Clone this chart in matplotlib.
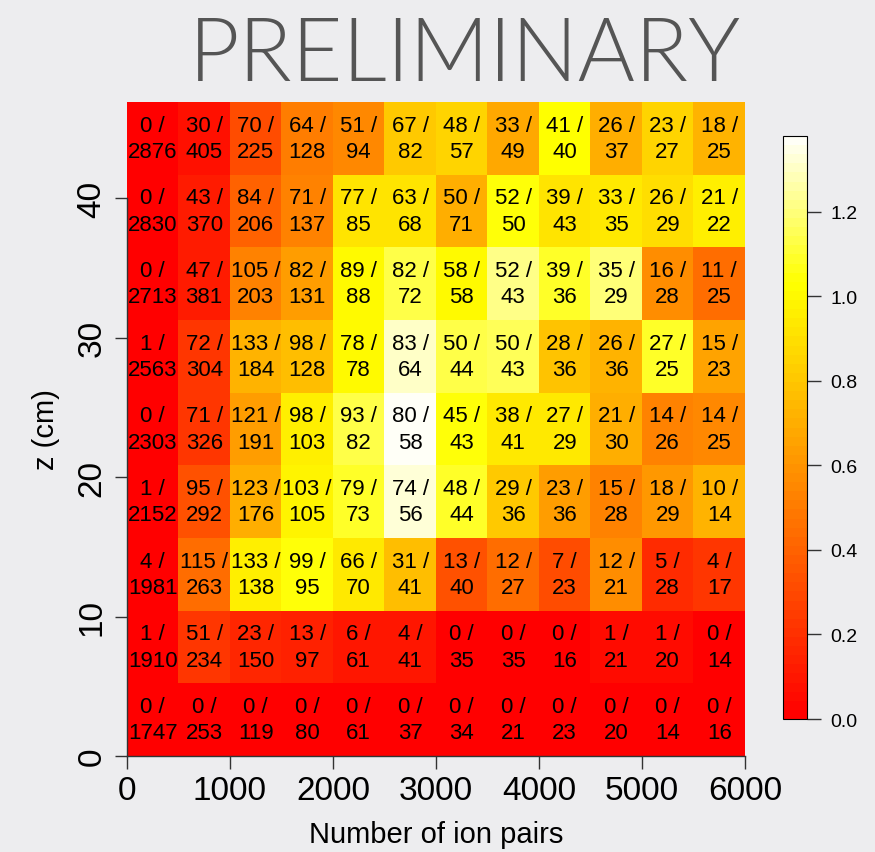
import numpy as np
import matplotlib
matplotlib.use("Agg")
import matplotlib.pyplot as plt
from matplotlib.colors import ListedColormap, hsv_to_rgb

# Bin edges: number of ion pairs (x) and z position in cm (y)
x_edges = [0, 500, 1000, 1500, 2000, 2500, 3000, 3500, 4000, 4500, 5000, 5500, 6000]
z_top = 46.9
n_zbins = 9

# Counts per cell, rows listed from the bottom z bin upwards
numerators = [
    [0, 0, 0, 0, 0, 0, 0, 0, 0, 0, 0, 0],
    [1, 51, 23, 13, 6, 4, 0, 0, 0, 1, 1, 0],
    [4, 115, 133, 99, 66, 31, 13, 12, 7, 12, 5, 4],
    [1, 95, 123, 103, 79, 74, 48, 29, 23, 15, 18, 10],
    [0, 71, 121, 98, 93, 80, 45, 38, 27, 21, 14, 14],
    [1, 72, 133, 98, 78, 83, 50, 50, 28, 26, 27, 15],
    [0, 47, 105, 82, 89, 82, 58, 52, 39, 35, 16, 11],
    [0, 43, 84, 71, 77, 63, 50, 52, 39, 33, 26, 21],
    [0, 30, 70, 64, 51, 67, 48, 33, 41, 26, 23, 18],
]
denominators = [
    [1747, 253, 119, 80, 61, 37, 34, 21, 23, 20, 14, 16],
    [1910, 234, 150, 97, 61, 41, 35, 35, 16, 21, 20, 14],
    [1981, 263, 138, 95, 70, 41, 40, 27, 23, 21, 28, 17],
    [2152, 292, 176, 105, 73, 56, 44, 36, 36, 28, 29, 14],
    [2303, 326, 191, 103, 82, 58, 43, 41, 29, 30, 26, 25],
    [2563, 304, 184, 128, 78, 64, 44, 43, 36, 36, 25, 23],
    [2713, 381, 203, 131, 88, 72, 58, 43, 36, 29, 28, 25],
    [2830, 370, 206, 137, 85, 68, 71, 50, 43, 35, 29, 22],
    [2876, 405, 225, 128, 94, 82, 57, 49, 40, 37, 27, 25],
]

x_ticks = [0, 1000, 2000, 3000, 4000, 5000, 6000]
z_ticks = [0, 10, 20, 30, 40]
cbar_ticks = [0.0, 0.2, 0.4, 0.6, 0.8, 1.0, 1.2]


def heat_colors(n):
    """Red -> yellow -> white palette in the style of R's heat.colors."""
    j = n // 4
    i = n - j
    cols = [hsv_to_rgb((h, 1.0, 1.0)) for h in np.linspace(0, 1 / 6, i)]
    if j > 0:
        sats = np.linspace(1 - 1 / (2 * j), 1 / (2 * j), j)
        cols += [hsv_to_rgb((1 / 6, s, 1.0)) for s in sats]
    return ListedColormap(cols)


bg = "#ededef"
axis_col = "#333333"
plt.rcParams["font.family"] = ["Liberation Sans", "DejaVu Sans"]

num = np.array(numerators, dtype=float)
den = np.array(denominators, dtype=float)
ratio = num / den
z_edges = np.linspace(0, z_top, n_zbins + 1)
x_edges = np.array(x_edges, dtype=float)

fig = plt.figure(figsize=(8.75, 8.53), dpi=100, facecolor=bg)
ax = fig.add_axes([0.1451, 0.1125, 0.7063, 0.7667])
ax.set_facecolor(bg)

cmap = heat_colors(64)
mesh = ax.pcolormesh(x_edges, z_edges, ratio, cmap=cmap, vmin=0,
                     vmax=ratio.max(), shading="flat")

xc = 0.5 * (x_edges[:-1] + x_edges[1:])
zc = 0.5 * (z_edges[:-1] + z_edges[1:])
for r in range(num.shape[0]):
    for c in range(num.shape[1]):
        ax.text(xc[c], zc[r], f"{int(num[r, c])} /\n{int(den[r, c])}",
                ha="center", va="center", fontsize=16, color="black",
                linespacing=1.32)

ax.set_xlim(0, 6000)
ax.set_ylim(0, z_top)
ax.set_xticks(x_ticks)
ax.set_yticks(z_ticks)
ax.set_yticklabels([str(t) for t in z_ticks], rotation=90, va="center")
for s in ("top", "right"):
    ax.spines[s].set_visible(False)
ax.spines["left"].set_bounds(0, 40)
ax.spines["bottom"].set_bounds(0, 6000)
for s in ("left", "bottom"):
    ax.spines[s].set_color(axis_col)
    ax.spines[s].set_linewidth(1.0)
ax.tick_params(axis="both", length=9, width=1.0, color=axis_col,
               labelsize=24, labelcolor="black", pad=5)
ax.set_xlabel("Number of ion pairs", fontsize=21, labelpad=10)
ax.set_ylabel("z (cm)", fontsize=21, labelpad=12)

cax = fig.add_axes([0.8949, 0.1559, 0.0274, 0.6835])
cb = fig.colorbar(mesh, cax=cax, ticks=cbar_ticks)
cb.ax.set_yticklabels([f"{t:.1f}" for t in cbar_ticks])
cb.outline.set_edgecolor("black")
cb.outline.set_linewidth(0.8)
cb.ax.tick_params(length=10, width=1.0, color=axis_col, labelsize=14, pad=7)

fig.text(0.531, 0.934, "PRELIMINARY", ha="center", va="center",
         fontsize=63, color="#555555", family=["Lato", "DejaVu Sans"],
         fontweight=300)

fig.savefig("out.png", dpi=100, facecolor=bg)
